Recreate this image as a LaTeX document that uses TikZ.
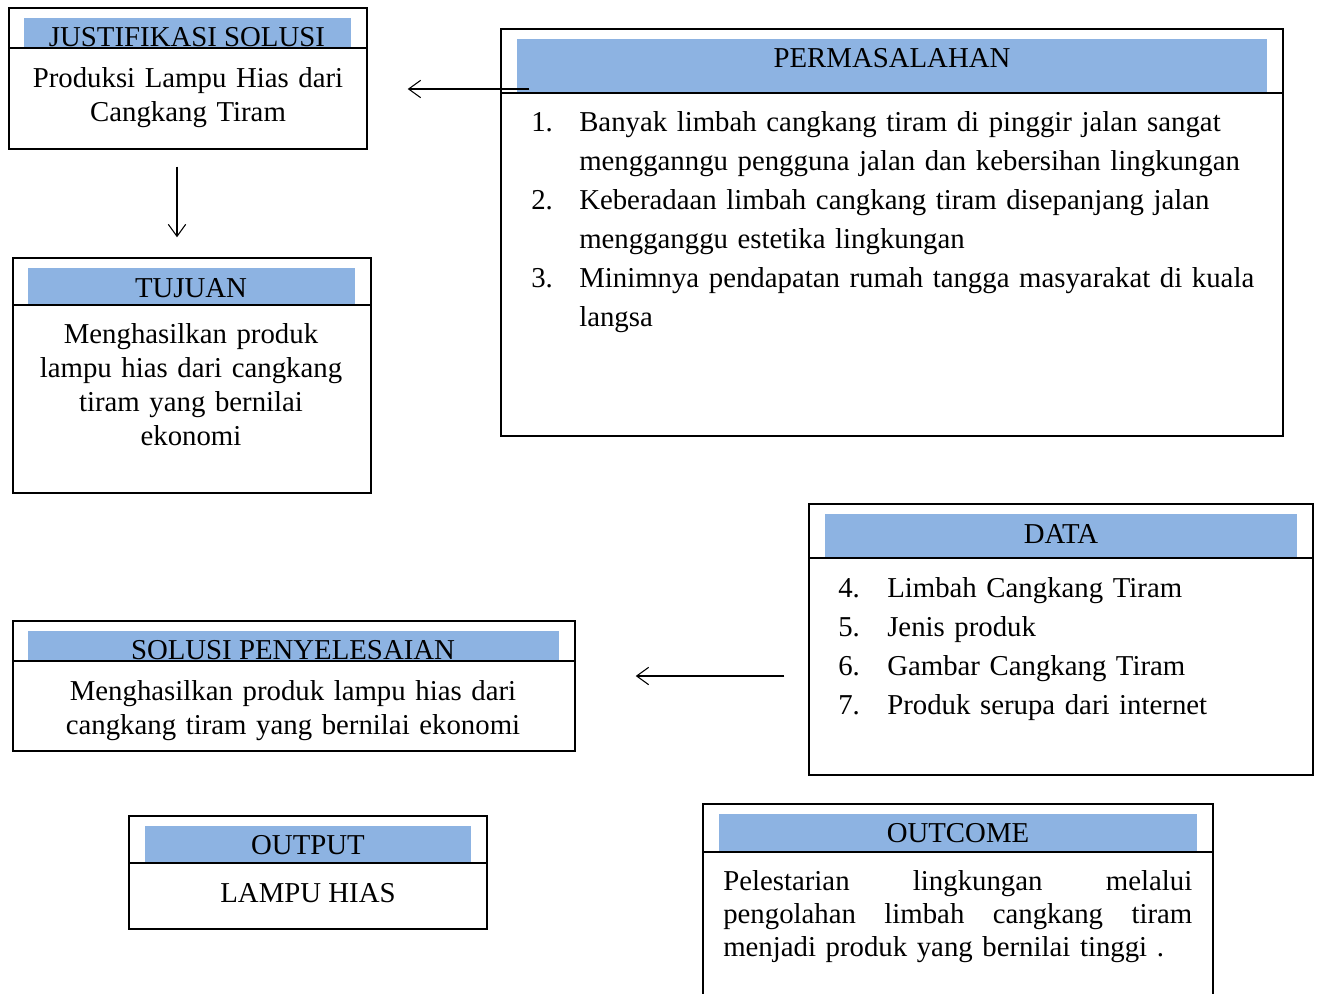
\documentclass[tikz,border=0pt]{standalone}
\usepackage{fontspec}
\setmainfont{Liberation Serif}
\usetikzlibrary{arrows.meta,fit}
\definecolor{pitabiru}{HTML}{8DB3E2}

\begin{document}
\begin{tikzpicture}[x=0.75pt,y=-0.75pt,
    kotak/.style={draw,line width=1.1pt,inner sep=0pt,fit={#1}},
    pita/.style={fill=pitabiru},
    garis/.style={line width=1.1pt},
    judul/.style={anchor=base,inner sep=0pt,font=\fontsize{21.6}{26}\selectfont},
    isi/.style={anchor=base,align=center,inner sep=0pt,text width=#1,font=\fontsize{21.6}{25.5}\selectfont},
    daftar/.style={anchor=base west,align=left,inner sep=0pt,text width=#1,font=\fontsize{21.6}{29.25}\selectfont},
    panah/.style={-{Straight Barb[length=9pt,width=13pt]},line width=0.8pt}]
  \useasboundingbox (0,0) rectangle (1320,993);
  \clip (0,0) rectangle (1320,993);

  %% justifikasi solusi
  \fill[pita] (24,18) rectangle (351,48);
  \node (JUST) [kotak={(9,8) (367,149)}] {};
  \node (JUSTt) at (187,46) [judul] {JUSTIFIKASI SOLUSI};
  \draw[garis] (9,48) -- (367,48);
  \node (JUSTi) at (188,87) [isi=250pt] {Produksi Lampu Hias dari\\Cangkang Tiram};

  %% tujuan
  \fill[pita] (28,268) rectangle (355,304);
  \node (TUJU) [kotak={(13,258) (371,493)}] {};
  \node (TUJUt) at (191,297) [judul] {TUJUAN};
  \draw[garis] (13,305) -- (371,305);
  \node (TUJUi) at (191,343) [isi=250pt] {Menghasilkan produk\\lampu hias dari cangkang\\tiram yang bernilai\\ekonomi};

  %% permasalahan
  \fill[pita] (517,39) rectangle (1267,92);
  \node (MASL) [kotak={(501,29) (1283,436)}] {};
  \node (MASLt) at (892,67) [judul] {PERMASALAHAN};
  \draw[garis] (501,93) -- (1283,93);
  \node (MASLi) at (531,131) [daftar=560pt]
    {\makebox[36pt][l]{1.}Banyak limbah cangkang tiram di pinggir jalan sangat\\
     \hspace*{36pt}mengganngu pengguna jalan dan kebersihan lingkungan\\
     \makebox[36pt][l]{2.}Keberadaan limbah cangkang tiram disepanjang jalan\\
     \hspace*{36pt}mengganggu estetika lingkungan\\
     \makebox[36pt][l]{3.}Minimnya pendapatan rumah tangga masyarakat di kuala\\
     \hspace*{36pt}langsa};

  %% data
  \fill[pita] (825,514) rectangle (1297,557);
  \node (DATA) [kotak={(809,504) (1313,775)}] {};
  \node (DATAt) at (1061,543) [judul] {DATA};
  \draw[garis] (809,558) -- (1313,558);
  \node (DATAi) at (838,597) [daftar=340pt]
    {\makebox[36.75pt][l]{4.}Limbah Cangkang Tiram\\
     \makebox[36.75pt][l]{5.}Jenis produk\\
     \makebox[36.75pt][l]{6.}Gambar Cangkang Tiram\\
     \makebox[36.75pt][l]{7.}Produk serupa dari internet};

  %% solusi penyelesaian
  \fill[pita] (28,631) rectangle (559,660);
  \node (SOLU) [kotak={(13,621) (575,751)}] {};
  \node (SOLUt) at (293,659) [judul] {SOLUSI PENYELESAIAN};
  \draw[garis] (13,661) -- (575,661);
  \node (SOLUi) at (293,700) [isi=400pt] {Menghasilkan produk lampu hias dari\\cangkang tiram yang bernilai ekonomi};

  %% output
  \fill[pita] (145,826) rectangle (471,862);
  \node (OUTP) [kotak={(129,816) (487,929)}] {};
  \node (OUTPt) at (308,854) [judul] {OUTPUT};
  \draw[garis] (129,863) -- (487,863);
  \node (OUTPi) at (308,902) [judul] {LAMPU HIAS};

  %% outcome
  \fill[pita] (719,814) rectangle (1197,851);
  \node (OUTC) [kotak={(703,804) (1213,1010)}] {};
  \node (OUTCt) at (958,842) [judul] {OUTCOME};
  \draw[garis] (703,852) -- (1213,852);
  \node (OUTCi) at (723,890) [daftar=351.75pt,font=\fontsize{21.6}{25.1}\selectfont]
    {\makebox[351.75pt][l]{Pelestarian\hfill lingkungan\hfill melalui}\\
     \makebox[351.75pt][l]{pengolahan\hfill limbah\hfill cangkang\hfill tiram}\\
     menjadi produk yang bernilai tinggi .};

  %% panah
  \draw[panah] ([shift={(29,-143.5)}]MASL.west) -- ([shift={(40,10.5)}]JUST.east);
  \draw[panah] ([shift={(-11,17)}]JUST.south) -- ([shift={(-15,-20)}]TUJU.north);
  \draw[panah] ([shift={(-24,36.5)}]DATA.west) -- ([shift={(60,-10)}]SOLU.east);

\end{tikzpicture}
\end{document}
